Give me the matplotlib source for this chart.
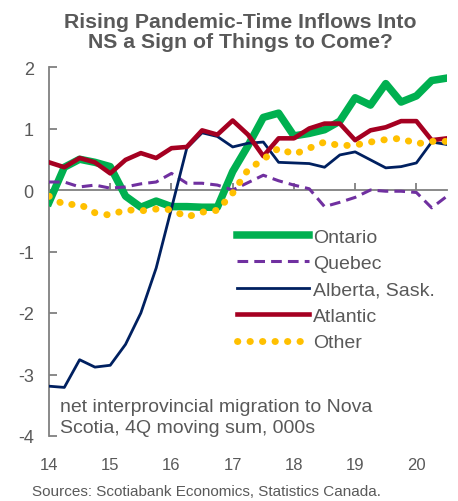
import numpy as np
import matplotlib
matplotlib.use('Agg')
import matplotlib.pyplot as plt

# quarterly data, 2014Q1 .. 2020Q3 (net migration to NS, 000s)
quarters = np.arange(14, 20.51, 0.25)

ontario = [-0.20, 0.37, 0.50, 0.45, 0.38, -0.10, -0.28, -0.18, -0.27, -0.27,
           -0.28, -0.28, 0.30, 0.72, 1.18, 1.25, 0.88, 0.92, 0.98, 1.12,
           1.50, 1.38, 1.73, 1.43, 1.53, 1.78, 1.82]
quebec = [0.13, 0.13, 0.05, 0.08, 0.03, 0.05, 0.10, 0.13, 0.27, 0.11,
          0.11, 0.08, 0.00, 0.12, 0.24, 0.15, 0.08, 0.02, -0.27, -0.20,
          -0.12, 0.00, -0.02, -0.02, -0.04, -0.29, -0.10]
alberta_sask = [-3.19, -3.21, -2.76, -2.88, -2.85, -2.51, -2.00, -1.27, -0.30, 0.68,
                0.93, 0.87, 0.70, 0.76, 0.78, 0.45, 0.44, 0.43, 0.37, 0.57,
                0.62, 0.49, 0.36, 0.38, 0.44, 0.78, 0.74]
atlantic = [0.45, 0.37, 0.52, 0.45, 0.27, 0.49, 0.60, 0.52, 0.68, 0.70,
            0.97, 0.90, 1.13, 0.90, 0.55, 0.84, 0.84, 1.00, 1.08, 1.08,
            0.81, 0.97, 1.02, 1.12, 1.12, 0.81, 0.84]
other = [-0.10, -0.24, -0.23, -0.37, -0.41, -0.32, -0.34, -0.31, -0.32, -0.44,
         -0.36, -0.33, -0.05, 0.33, 0.50, 0.68, 0.58, 0.68, 0.78, 0.72,
         0.73, 0.78, 0.82, 0.84, 0.75, 0.79, 0.79]

year_ticks = [14, 15, 16, 17, 18, 19, 20]
year_labels = ['14', '15', '16', '17', '18', '19', '20']
y_ticks = [2, 1, 0, -1, -2, -3, -4]

grey_text = '#595959'
plt.rcParams['font.family'] = ['Liberation Sans', 'DejaVu Sans']

fig = plt.figure(figsize=(4.58, 5.02), dpi=100)
ax = fig.add_axes([49 / 458, 1 - 437 / 502, 398 / 458, 369 / 502])

ax.plot(quarters, ontario, color='#00B050', lw=5.4, label='Ontario', zorder=3)
ax.plot(quarters, quebec, color='#7030A0', lw=2.2, linestyle=(0, (3.5, 2)), label='Quebec', zorder=4)
ax.plot(quarters, alberta_sask, color='#002060', lw=2.0, label='Alberta, Sask.', zorder=5)
ax.plot(quarters, atlantic, color='#A50021', lw=3.3, label='Atlantic', zorder=6)
ax.plot(quarters, other, color='#FFC000', lw=5, linestyle=(0, (0.05, 1.75)),
        dash_capstyle='round', label='Other', zorder=7)

ax.set_xlim(14, 20.5)
ax.set_ylim(-4, 2)

# x axis sits on zero, labels at the bottom
ax.spines['bottom'].set_position(('data', 0))
ax.spines['top'].set_visible(False)
ax.spines['right'].set_visible(False)
for s in ['left', 'bottom']:
    ax.spines[s].set_color('#808080')
    ax.spines[s].set_linewidth(1.3)
ax.set_xticks(year_ticks)
ax.set_xticklabels([])
ax.tick_params(axis='x', direction='in', length=5, width=1.3, color='#808080')
ax.set_yticks(y_ticks)
ax.set_yticklabels([str(t) for t in y_ticks])
ax.tick_params(axis='y', direction='in', length=6, width=1.3, color='#808080',
               labelsize=13, labelcolor=grey_text, pad=11)

sec = ax.secondary_xaxis(0)
sec.set_xticks(year_ticks)
sec.set_xticklabels(year_labels)
sec.spines['bottom'].set_visible(False)
sec.tick_params(length=0, labelsize=12, labelcolor=grey_text, pad=15)

leg = ax.legend(loc='upper left', bbox_to_anchor=(0.472, 0.563), frameon=False,
                fontsize=14, handlelength=3.7, handletextpad=0.2, labelspacing=0.45,
                borderpad=0, borderaxespad=0)
for t in leg.get_texts():
    t.set_color(grey_text)

ax.text(14.18, -3.6, 'net interprovincial migration to Nova',
        fontsize=14, color=grey_text, va='baseline', ha='left')
ax.text(14.18, -3.93, 'Scotia, 4Q moving sum, 000s',
        fontsize=14, color=grey_text, va='baseline', ha='left')

fig.text(0.525, 0.975, 'Rising Pandemic-Time Inflows Into\nNS a Sign of Things to Come?',
         ha='center', va='top', fontsize=15.3, fontweight='bold', color=grey_text, linespacing=1.12)
fig.text(32 / 458, 1 - 492 / 502, 'Sources: Scotiabank Economics, Statistics Canada.',
         ha='left', va='center', fontsize=11, color=grey_text)

fig.savefig('out.png', dpi=100)
